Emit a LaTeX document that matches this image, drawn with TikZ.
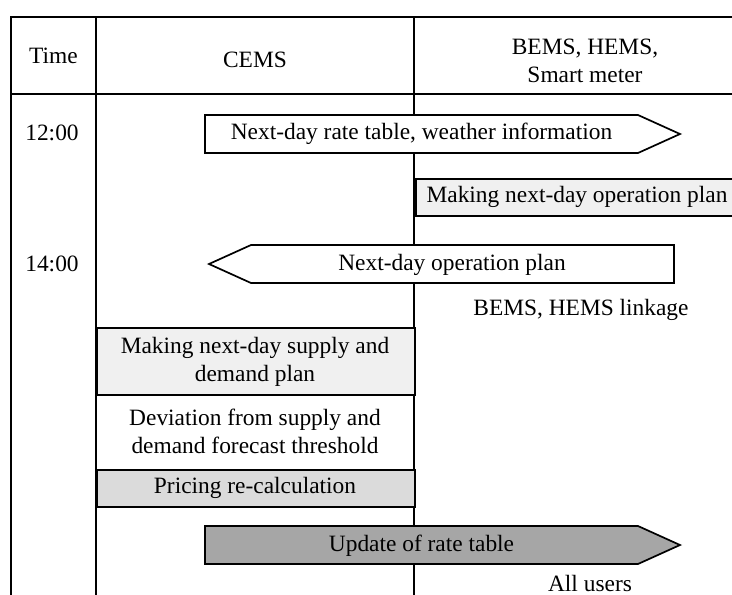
\documentclass[tikz,border=0pt]{standalone}
\usepackage{fontspec}
\setmainfont{Liberation Serif}
\begin{document}
\begin{tikzpicture}[x=1pt,y=-1pt,
  lbl/.style={font=\fontsize{23.4}{28}\selectfont, inner sep=0pt, align=center},
  gridline/.style={line width=1.1pt},
  frameline/.style={line width=2pt},
  boxa/.style={draw, line width=1.7pt, inner sep=0pt, align=center, anchor=north west},
  arrowshape/.style={draw, line width=1.7pt, line join=miter},
  ]
\useasboundingbox (0,0) rectangle (732,595);
\clip (0,0) rectangle (732,595);
\fill[white] (0,0) rectangle (732,595);
% table lines
\draw[gridline] (96,17) -- (96,600);
\draw[gridline] (414,17) -- (414,600);
\draw[line width=1.4pt] (11,16.5) -- (11,600);
\draw[frameline] (10,17) -- (740,17);
\draw[frameline] (10,94) -- (740,94);
% header texts
\node[lbl] (time) at (53.5,56) {Time};
\node[lbl] (cems) at (255,59.5) {CEMS};
\node[lbl] (bems) at (585,61) {BEMS, HEMS,\\Smart meter};
% time labels
\node[lbl] (t12) at (52,132.5) {12:00};
\node[lbl] (t14) at (52,264) {14:00};
% arrow 1
\draw[arrowshape, fill=white] (205,115) -- (638,115) -- (680,134) -- (638,153) -- (205,153) -- cycle;
\node[lbl] (a1) at (421.5,134) {Next-day rate table, weather information};
% operation plan box
\node[boxa, fill=black!6, minimum width=330, minimum height=37] (opbox) at (415,178) {};
\node[lbl] (optext) at (577,197) {Making next-day operation plan};
% arrow 2
\draw[arrowshape, fill=white] (674,245) -- (251,245) -- (209,264) -- (251,283) -- (674,283) -- cycle;
\node[lbl] (a2) at (452,264.5) {Next-day operation plan};
\node[lbl] (link) at (581,310) {BEMS, HEMS linkage};
% supply plan box
\node[boxa, fill=black!6, minimum width=318, minimum height=67] (supply) at (96,327) {};
\node[lbl] (supplytext) at (255,362) {Making next-day supply and\\demand plan};
% deviation text
\node[lbl] (dev) at (255,431.5) {Deviation from supply and\\demand forecast threshold};
% pricing box
\node[boxa, fill=black!14, minimum width=318, minimum height=37] (pricing) at (96,469) {};
\node[lbl] (pricetext) at (255,488) {Pricing re-calculation};
% arrow 3
\draw[arrowshape, fill=black!35] (205,526) -- (638,526) -- (680,545) -- (638,564) -- (205,564) -- cycle;
\node[lbl] (a3) at (421.5,545.5) {Update of rate table};
\node[lbl] (users) at (590,583) {All users};
\end{tikzpicture}
\end{document}
